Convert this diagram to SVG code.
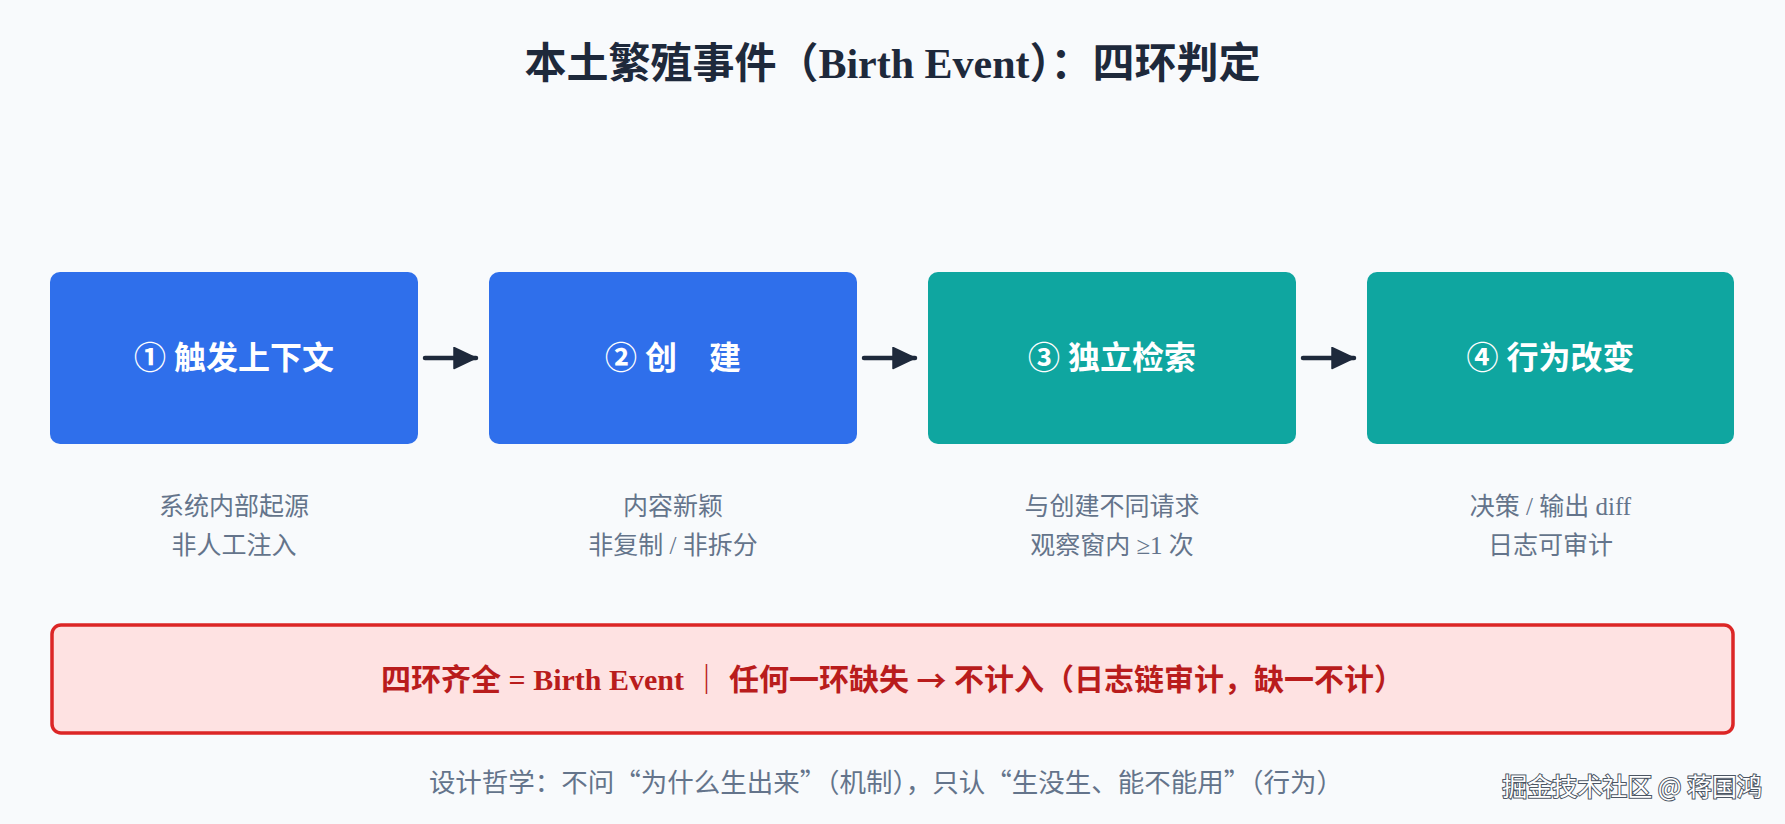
<svg xmlns="http://www.w3.org/2000/svg" width="1785" height="824" viewBox="0 0 1785 824">
<defs>
<style>
.t{font-family:"Liberation Serif","Noto Sans CJK SC",serif;text-anchor:middle;dominant-baseline:central}
.cjk{font-family:"Noto Sans CJK SC","Liberation Serif",serif}
.title{font-size:42px;font-weight:bold;fill:#1e293b}
.lbl{font-size:32px;font-weight:bold;fill:#ffffff}
.desc{font-size:25px;fill:#64748b}
.rule{font-size:30px;font-weight:bold;fill:#b91c1c}
.foot{font-size:26.5px;fill:#64748b}
.blue{fill:#2f6feb}
.teal{fill:#0fa6a0}
.conn{stroke:#1e293b;stroke-width:4.5;stroke-linecap:round;fill:none}
.wm{font-family:"Noto Sans CJK SC","Noto Sans",sans-serif;font-size:25px;fill:#ffffff;stroke:#4b5563;stroke-width:2;paint-order:stroke;text-anchor:end;dominant-baseline:central}
</style>
<marker id="ah" markerUnits="userSpaceOnUse" markerWidth="26" markerHeight="26" refX="23" refY="11.5" orient="auto">
<path d="M1,1 L23,11.5 L1,22 Z" fill="#1e293b" stroke="#1e293b" stroke-width="1.5" stroke-linejoin="round"/>
</marker>
</defs>
<rect width="1785" height="824" fill="#f8fafc"/>
<text class="t title" x="892.5" y="64">本土繁殖事件（Birth Event）：四环判定</text>

<g id="node1">
<rect class="blue" x="50" y="272" width="368" height="172" rx="10"/>
<text class="t lbl" x="234" y="358">① 触发上下文</text>
</g>
<g id="node2">
<rect class="blue" x="489" y="272" width="368" height="172" rx="10"/>
<text class="t lbl" x="673" y="358">② 创　建</text>
</g>
<g id="node3">
<rect class="teal" x="928" y="272" width="368" height="172" rx="10"/>
<text class="t lbl" x="1112" y="358">③ 独立检索</text>
</g>
<g id="node4">
<rect class="teal" x="1367" y="272" width="367" height="172" rx="10"/>
<text class="t lbl" x="1550.5" y="358">④ 行为改变</text>
</g>

<g id="connectors">
<line class="conn" x1="425" y1="358" x2="476" y2="358" marker-end="url(#ah)"/>
<line class="conn" x1="864" y1="358" x2="915" y2="358" marker-end="url(#ah)"/>
<line class="conn" x1="1303" y1="358" x2="1354" y2="358" marker-end="url(#ah)"/>
</g>

<g id="desc1">
<text class="t desc" x="234" y="506.5">系统内部起源</text>
<text class="t desc" x="234" y="545.5">非人工注入</text>
</g>
<g id="desc2">
<text class="t desc" x="673" y="506.5">内容新颖</text>
<text class="t desc" x="673" y="545.5">非复制 / 非拆分</text>
</g>
<g id="desc3">
<text class="t desc" x="1112" y="506.5">与创建不同请求</text>
<text class="t desc" x="1112" y="545.5">观察窗内 ≥1 次</text>
</g>
<g id="desc4">
<text class="t desc" x="1550.5" y="506.5">决策 / 输出 diff</text>
<text class="t desc" x="1550.5" y="545.5">日志可审计</text>
</g>

<g id="rule">
<rect x="52" y="625" width="1681" height="108" rx="9" fill="#fee2e2" stroke="#dc2626" stroke-width="3.5"/>
<text class="t rule" x="892.5" y="679">四环齐全 = Birth Event ｜ 任何一环缺失 <tspan class="cjk">→</tspan> 不计入（日志链审计，缺一不计）</text>
</g>

<text class="t foot cjk" x="886" y="780">设计哲学：不问“为什么生出来”（机制），只认“生没生、能不能用”（行为）</text>
<text class="wm" x="1762" y="785">掘金技术社区 @ 蒋国鸿</text>
</svg>
